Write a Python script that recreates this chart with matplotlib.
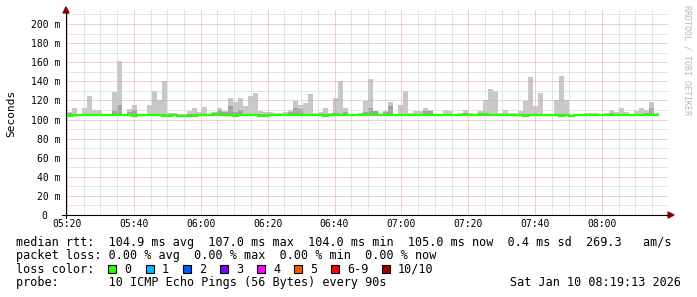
import numpy as np
import matplotlib.pyplot as plt
from matplotlib.lines import Line2D
from matplotlib.patches import Rectangle, Polygon

# ── Data (ms, 90 s steps starting at 05:20) ──────────────────────────────────

step_min = 1.5
smoke_hi = [
    108, 112, 106, 112, 125, 110, 110, 105, 106, 129,
    161, 106, 111, 115, 105, 105, 115, 130, 120, 140,
    107, 107, 106, 106, 109, 112, 108, 113, 105, 108,
    112, 109, 123, 118, 123, 114, 125, 128, 109, 108,
    108, 107, 107, 108, 110, 119, 115, 117, 127, 107,
    108, 112, 107, 122, 140, 112, 106, 106, 107, 119,
    142, 109, 106, 109, 118, 106, 115, 130, 107, 109,
    109, 112, 110, 106, 106, 110, 109, 106, 107, 110,
    107, 105, 109, 120, 132, 130, 107, 110, 107, 107,
    109, 119, 144, 114, 128, 106, 105, 120, 146, 120,
    105, 105, 105, 107, 107, 107, 105, 107, 110, 108,
    112, 108, 105, 109, 112, 110, 118, 107,
]
smoke_dark = [
    107, 106, 105, 106, 106, 106, 106, 105, 105, 110,
    115, 105, 108, 110, 105, 105, 106, 106, 106, 106,
    106, 106, 105, 105, 106, 106, 106, 106, 105, 107,
    110, 108, 114, 108, 110, 106, 106, 106, 106, 106,
    106, 106, 106, 106, 108, 112, 111, 106, 106, 106,
    106, 106, 106, 107, 106, 108, 105, 105, 106, 108,
    112, 109, 105, 108, 114, 105, 106, 106, 106, 106,
    106, 109, 109, 105, 105, 106, 106, 105, 106, 107,
    106, 105, 106, 106, 106, 106, 106, 106, 106, 106,
    106, 106, 106, 106, 106, 105, 105, 106, 106, 106,
    105, 105, 105, 106, 106, 106, 105, 106, 107, 106,
    106, 106, 105, 106, 106, 107, 112, 106,
]
median_rtt = [
    104, 105, 105, 105, 105, 105, 105, 105, 105, 105,
    105, 105, 105, 104, 105, 105, 105, 105, 105, 104,
    104, 105, 104, 104, 104, 104, 105, 105, 105, 106,
    106, 105, 105, 104, 105, 105, 105, 105, 104, 104,
    105, 105, 105, 105, 105, 105, 105, 105, 105, 105,
    105, 104, 105, 106, 105, 105, 105, 105, 105, 106,
    106, 106, 105, 105, 105, 105, 105, 105, 105, 105,
    105, 105, 105, 105, 105, 105, 105, 105, 105, 105,
    105, 105, 106, 106, 105, 105, 105, 105, 105, 105,
    105, 104, 105, 105, 105, 105, 105, 105, 104, 105,
    104, 105, 105, 105, 105, 105, 105, 105, 105, 105,
    105, 105, 105, 105, 105, 105, 105, 105,
]
smoke_floor = 104.0

time_ticks = [0, 20, 40, 60, 80, 100, 120, 140, 160]
time_labels = ["05:20", "05:40", "06:00", "06:20", "06:40",
               "07:00", "07:20", "07:40", "08:00"]
y_ticks = [0, 20, 40, 60, 80, 100, 120, 140, 160, 180, 200]
y_labels = ["0  ", "20 m", "40 m", "60 m", "80 m", "100 m",
            "120 m", "140 m", "160 m", "180 m", "200 m"]

loss_labels = ["0", "1", "2", "3", "4", "5", "6-9", "10/10"]
loss_colors = ["#26ff00", "#00b8ff", "#0059ff", "#7e00ff",
               "#ff00ff", "#ff5500", "#ff0000", "#a10000"]

legend_lines = [
    "median rtt:  104.9 ms avg  107.0 ms max  104.0 ms min  105.0 ms now  0.4 ms sd  269.3   am/s",
    "packet loss: 0.00 % avg  0.00 % max  0.00 % min  0.00 % now",
    "loss color:",
    "probe:       10 ICMP Echo Pings (56 Bytes) every 90s",
]
stamp = "Sat Jan 10 08:19:13 2026"

# ── Layout (pixel based, 697x297) ─────────────────────────────────────────────

W, H = 697, 297
MONO = "DejaVu Sans Mono"


def fx(px):
    return px / W


def fy(py):
    return 1 - py / H


px_per_min = 535 / 160
px_per_ms = 191 / 200
x_left = (66 - 67) / px_per_min
x_right = (668 - 67) / px_per_min
y_top = (215 - 10) / px_per_ms

fig = plt.figure(figsize=(W / 100, H / 100), dpi=100, facecolor="white")
ax = fig.add_axes([fx(66), fy(215), 602 / W, 205 / H])
ax.set_xlim(x_left, x_right)
ax.set_ylim(0, y_top)
for s in ax.spines.values():
    s.set_visible(False)

# grid (1 px dots, snapped to the pixel grid)
for v in range(10, 211, 10):
    major = v % 20 == 0
    ax.axhline(v, color="#e0a0a0" if major else "#cccccc",
               lw=0.72, ls=(0, (1, 1)), snap=True, zorder=3)
for m in range(0, 180, 5):
    major = m % 20 == 0
    ax.axvline(m, color="#e0a0a0" if major else "#cccccc",
               lw=0.72, ls=(0, (1, 1)), snap=True, zorder=3)

# smoke
edges = np.arange(len(smoke_hi) + 1) * step_min
ax.bar(edges[:-1], np.subtract(smoke_hi, smoke_floor), bottom=smoke_floor,
       width=step_min, align="edge", color="#c8c8c8", linewidth=0, zorder=2)
ax.bar(edges[:-1], np.subtract(smoke_dark, smoke_floor), bottom=smoke_floor,
       width=step_min, align="edge", color="#a2a2a2", linewidth=0, zorder=2)

# median line
ax.stairs(median_rtt, edges, baseline=None, color="#26ff00", lw=1.6, zorder=4)

# ticks
ax.set_xticks(time_ticks, time_labels)
ax.set_yticks(y_ticks, y_labels)
ax.tick_params(length=0, labelsize=7)
ax.tick_params(axis="x", pad=3)
ax.tick_params(axis="y", pad=4.3)
for lab in ax.get_xticklabels() + ax.get_yticklabels():
    lab.set_family(MONO)

# axes lines + arrows
fig.add_artist(Line2D([fx(62), fx(669)], [fy(215), fy(215)], color="black", lw=0.8))
fig.add_artist(Line2D([fx(66), fx(66)], [fy(218), fy(12)], color="black", lw=0.8))
fig.add_artist(Polygon([[fx(668), fy(212)], [fx(674), fy(215)], [fx(668), fy(218)]],
                       closed=True, color="#8b0000", transform=fig.transFigure))
fig.add_artist(Polygon([[fx(63), fy(13)], [fx(66), fy(7)], [fx(69), fy(13)]],
                       closed=True, color="#8b0000", transform=fig.transFigure))

fig.text(fx(11), fy(113), "Seconds", rotation=90, ha="center", va="center",
         family=MONO, fontsize=8)
fig.text(fx(687), fy(5), "RRDTOOL / TOBI OETIKER", rotation=270, ha="center",
         va="top", family=MONO, fontsize=6, color="#b8b8b8")

# legend text
baselines = [245.7, 259.0, 272.7, 286.0]
for line, b in zip(legend_lines, baselines):
    fig.text(fx(16), fy(b), line, family=MONO, fontsize=8.45, va="baseline")
fig.text(fx(681), fy(baselines[3]), stamp, family=MONO, fontsize=8.45,
         va="baseline", ha="right")

box_x = [108, 145.7, 182.7, 220, 257.3, 294, 331, 381.7]
for bx, lab, col in zip(box_x, loss_labels, loss_colors):
    fig.add_artist(Rectangle((fx(bx), fy(273)), 8 / W, 8 / H, facecolor=col,
                             edgecolor="black", lw=0.8, transform=fig.transFigure))
    fig.text(fx(bx + 16), fy(baselines[2]), lab, family=MONO, fontsize=8.45,
             va="baseline")

fig.savefig("out.png", dpi=100, facecolor="white")
